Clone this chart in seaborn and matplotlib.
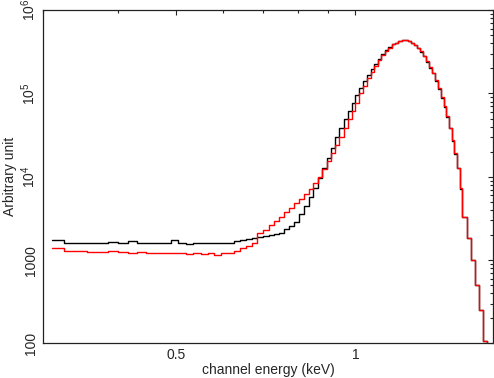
import numpy as np
import pandas as pd
import seaborn as sns
import matplotlib.pyplot as plt
from matplotlib.ticker import FixedLocator, NullFormatter

# bin edges in keV (last bin falls below the plotted range)
edges = [0.310, 0.325, 0.340, 0.355, 0.370, 0.385, 0.400, 0.415, 0.430, 0.445,
         0.460, 0.475, 0.490, 0.505, 0.520, 0.535, 0.550, 0.565, 0.580, 0.595,
         0.610, 0.625, 0.640, 0.655, 0.670, 0.685, 0.700, 0.715, 0.730, 0.745,
         0.760, 0.775, 0.790, 0.805, 0.820, 0.835, 0.850, 0.865, 0.880, 0.895,
         0.910, 0.925, 0.940, 0.955, 0.970, 0.985, 1.000, 1.015, 1.030, 1.045,
         1.060, 1.075, 1.090, 1.105, 1.120, 1.135, 1.150, 1.165, 1.180, 1.195,
         1.210, 1.225, 1.240, 1.255, 1.270, 1.285, 1.300, 1.315, 1.330, 1.345,
         1.360, 1.375, 1.390, 1.405, 1.420, 1.435, 1.450, 1.465, 1.480, 1.495,
         1.510, 1.535, 1.560, 1.585, 1.610, 1.635, 1.660, 1.685]

# log10 of the bin heights
black_log = [3.24, 3.21, 3.20, 3.21, 3.21, 3.22, 3.20, 3.23, 3.21, 3.20,
             3.20, 3.21, 3.24, 3.20, 3.19, 3.21, 3.20, 3.21, 3.20, 3.21,
             3.21, 3.23, 3.24, 3.25, 3.26, 3.28, 3.29, 3.30, 3.31, 3.33,
             3.37, 3.41, 3.46, 3.55, 3.65, 3.76, 3.87, 3.99, 4.10, 4.22,
             4.34, 4.48, 4.59, 4.69, 4.79, 4.89, 4.98, 5.07, 5.15, 5.22,
             5.29, 5.35, 5.41, 5.47, 5.52, 5.56, 5.59, 5.61, 5.63, 5.64,
             5.64, 5.63, 5.61, 5.58, 5.55, 5.50, 5.45, 5.38, 5.31, 5.24,
             5.15, 5.05, 4.95, 4.84, 4.72, 4.58, 4.43, 4.27, 4.10, 3.85,
             3.52, 3.27, 3.00, 2.70, 2.40, 2.03, 1.50]

red_log = [3.14, 3.11, 3.11, 3.10, 3.10, 3.11, 3.10, 3.09, 3.10, 3.08,
           3.09, 3.08, 3.09, 3.08, 3.07, 3.08, 3.07, 3.09, 3.06, 3.08,
           3.09, 3.11, 3.14, 3.17, 3.20, 3.32, 3.36, 3.42, 3.47, 3.52,
           3.58, 3.63, 3.68, 3.73, 3.79, 3.85, 3.92, 4.00, 4.09, 4.19,
           4.28, 4.38, 4.48, 4.59, 4.69, 4.79, 4.89, 5.00, 5.09, 5.18,
           5.26, 5.33, 5.40, 5.46, 5.51, 5.55, 5.59, 5.61, 5.63, 5.64,
           5.64, 5.63, 5.61, 5.58, 5.55, 5.51, 5.45, 5.39, 5.32, 5.24,
           5.16, 5.06, 4.96, 4.85, 4.73, 4.59, 4.44, 4.28, 4.11, 3.86,
           3.52, 3.27, 3.00, 2.70, 2.40, 2.03, 1.50]

y_ticks = [100, 1000, 1e4, 1e5, 1e6]
y_ticklabels = ['100', '1000', '$10^{4}$', '$10^{5}$', '$10^{6}$']
x_ticks = [0.5, 1.0]
x_ticklabels = ['0.5', '1']
x_minor = [0.3, 0.4, 0.6, 0.7, 0.8, 0.9]

sns.set_style('white')
plt.rcParams['font.family'] = ['Liberation Sans', 'DejaVu Sans']
plt.rcParams['mathtext.default'] = 'regular'
plt.rcParams['font.size'] = 10

# steps-post needs the last height repeated at the final edge
spec = pd.DataFrame({
    'energy': edges,
    'black': 10 ** np.array(black_log + [black_log[-1]]),
    'red': 10 ** np.array(red_log + [red_log[-1]]),
})

fig = plt.figure(figsize=(4.94, 3.78), dpi=100)
ax = fig.add_axes([0.088, 0.0913, 0.910, 0.882])
ax.set_xscale('log')
ax.set_yscale('log')

sns.lineplot(data=spec, x='energy', y='black', ax=ax, color='black',
             drawstyle='steps-post', estimator=None, sort=False, linewidth=1.0)
sns.lineplot(data=spec, x='energy', y='red', ax=ax, color='#ff0000',
             drawstyle='steps-post', estimator=None, sort=False, linewidth=1.0)

ax.set_xlim(0.3, 1.7)
ax.set_ylim(100, 1e6)

ax.xaxis.set_major_locator(FixedLocator(x_ticks))
ax.xaxis.set_minor_locator(FixedLocator(x_minor))
ax.xaxis.set_minor_formatter(NullFormatter())
ax.set_xticklabels(x_ticklabels)
ax.yaxis.set_major_locator(FixedLocator(y_ticks))
ax.set_yticklabels(y_ticklabels, rotation=90, va='center')

ax.tick_params(which='both', direction='in', top=True, right=True,
               width=0.8, color='#222222', labelsize=10)
ax.tick_params(which='major', length=3.3)
ax.tick_params(which='minor', length=2.0)
ax.tick_params(axis='x', pad=3)
ax.tick_params(axis='y', pad=4)

for s in ax.spines.values():
    s.set_linewidth(0.9)
    s.set_color('#222222')

ax.set_xlabel('channel energy (keV)', fontsize=10, labelpad=1)
ax.set_ylabel('Arbitrary unit', fontsize=10, labelpad=2)

fig.savefig('out.png', dpi=100)
